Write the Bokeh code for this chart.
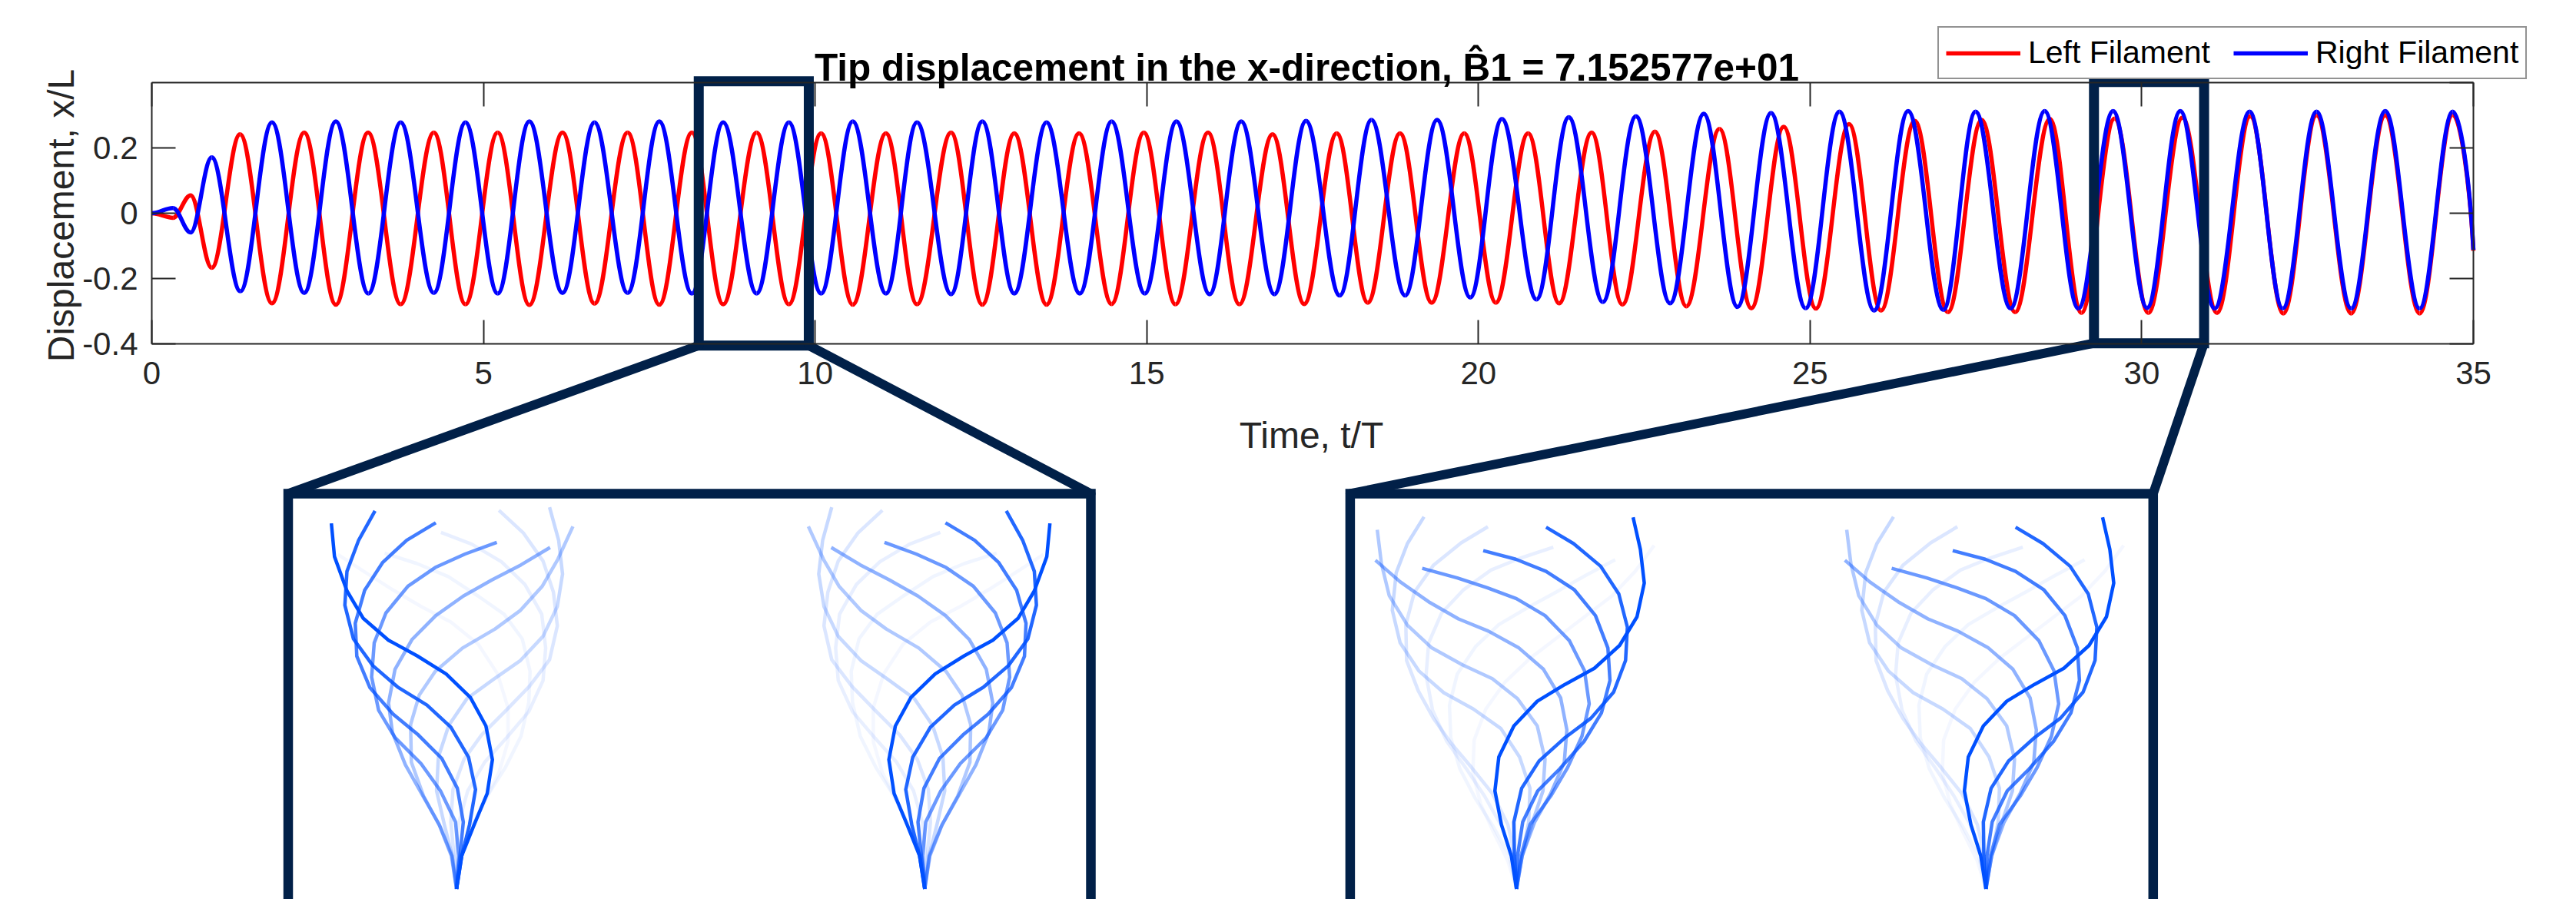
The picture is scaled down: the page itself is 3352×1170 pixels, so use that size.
import numpy as np
from bokeh.plotting import figure
from bokeh.models import (Range1d, LinearAxis, FixedTicker, CustomJSTickFormatter,
                          Label, Legend, LegendItem, ColumnDataSource)
from bokeh.embed import file_html
from bokeh.resources import INLINE

# ---------------------------------------------------------------- data
title_text = "Tip displacement in the x-direction, B\u03021 = 7.152577e+01"
x_label = "Time, t/T"
y_label = "Displacement, x/L"
series_names = ["Left Filament", "Right Filament"]

time_ticks = [0, 5, 10, 15, 20, 25, 30, 35]
disp_ticks = [-0.4, -0.2, 0.0, 0.2]

# successive extrema (plus start / end) of the tip displacement
blue_t = [0.0, 0.32, 0.586, 0.904, 1.335, 1.812, 2.298, 2.775, 3.266, 3.752, 4.252, 4.729,
          5.215, 5.692, 6.192, 6.674, 7.174, 7.651, 8.142, 8.614, 9.118, 9.605, 10.09,
          10.568, 11.068, 11.536, 12.049, 12.521, 13.003, 13.489, 13.989, 14.470, 14.970,
          15.447, 15.947, 16.424, 16.924, 17.401, 17.909, 18.387, 18.895, 19.377, 19.877,
          20.354, 20.876, 21.362, 21.875, 22.375, 22.889, 23.397, 23.906, 24.411, 24.933,
          25.442, 25.965, 26.478, 27.009, 27.495, 28.023, 28.537, 29.045, 29.568, 30.081,
          30.581, 31.099, 31.626, 32.126, 32.635, 33.157, 33.671, 34.189, 34.689, 35.0]
blue_v = [0.0, 0.016, -0.059, 0.171, -0.239, 0.278, -0.244, 0.281, -0.246, 0.278, -0.244, 0.278,
          -0.246, 0.281, -0.244, 0.278, -0.244, 0.281, -0.246, 0.278, -0.246, 0.278, -0.246,
          0.281, -0.246, 0.278, -0.248, 0.281, -0.246, 0.278, -0.246, 0.281, -0.246,
          0.281, -0.248, 0.281, -0.248, 0.283, -0.252, 0.286, -0.252, 0.286, -0.258,
          0.289, -0.264, 0.294, -0.272, 0.297, -0.276, 0.305, -0.287, 0.307, -0.291,
          0.311, -0.298, 0.313, -0.296, 0.311, -0.292, 0.313, -0.292, 0.313, -0.290,
          0.313, -0.292, 0.311, -0.292, 0.311, -0.292, 0.313, -0.292, 0.311, -0.112]

red_t = [0.0, 0.32, 0.586, 0.904, 1.331, 1.812, 2.298, 2.775, 3.261, 3.752, 4.252, 4.729,
         5.215, 5.692, 6.192, 6.674, 7.174, 7.651, 8.142, 8.614, 9.118, 9.605, 10.09,
         10.568, 11.068, 11.536, 12.049, 12.521, 13.003, 13.489, 13.979, 14.470, 14.956,
         15.433, 15.924, 16.396, 16.896, 17.373, 17.864, 18.332, 18.818, 19.295, 19.786,
         20.263, 20.749, 21.217, 21.707, 22.171, 22.661, 23.134, 23.634, 24.115, 24.602,
         25.088, 25.587, 26.069, 26.578, 27.078, 27.586, 28.091, 28.614, 29.091, 29.590,
         30.100, 30.613, 31.135, 31.636, 32.135, 32.635, 33.157, 33.671, 34.189, 34.689, 35.0]
red_v = [0.0, -0.014, 0.055, -0.167, 0.242, -0.276, 0.247, -0.280, 0.247, -0.279, 0.247, -0.279,
         0.247, -0.281, 0.247, -0.277, 0.247, -0.280, 0.247, -0.279, 0.247, -0.279, 0.245,
         -0.280, 0.245, -0.279, 0.247, -0.280, 0.245, -0.280, 0.245, -0.278, 0.247,
         -0.279, 0.247, -0.279, 0.242, -0.278, 0.245, -0.274, 0.245, -0.274, 0.245,
         -0.274, 0.245, -0.276, 0.247, -0.280, 0.250, -0.285, 0.258, -0.291, 0.265,
         -0.292, 0.273, -0.298, 0.283, -0.303, 0.286, -0.303, 0.289, -0.305, 0.290,
         -0.305, 0.293, -0.305, 0.297, -0.307, 0.300, -0.307, 0.300, -0.307, 0.302, -0.115]

# zoomed windows (t/T start, t/T end, displacement bottom, top)
zoom_windows = [(8.246, 9.905, -0.405, 0.404), (29.28, 30.94, -0.398, 0.402)]

# filament snapshots (newest -> oldest), sampled on a read grid where 1 L = 1690 units,
# base of the filament at (base_x, base_y) of that grid
fil_L_read = 1690.0
fil1_base = (632, 1528)
fil1_shapes = [
    [(150,120),(162,248),(210,380),(272,485),(370,570),(480,630),(592,700),(685,790),(745,900),(770,1030),(750,1160),(700,1280),(652,1400),(632,1528)],
    [(318,72),(255,185),(210,305),(202,435),(235,565),(310,668),(405,750),(518,820),(610,905),(678,1020),(705,1145),(682,1280),(652,1400),(632,1528)],
    [(552,118),(440,185),(348,270),(278,378),(242,505),(248,632),(298,752),(388,855),(485,935),(575,1025),(635,1140),(658,1270),(645,1400),(632,1528)],
    [(787,193),(665,238),(550,290),(445,362),(360,465),(315,580),(305,712),(332,840),(395,945),(495,1045),(570,1150),(628,1270),(640,1400),(632,1528)],
    [(992,213),(880,280),(768,338),(658,400),(552,475),(460,568),(395,682),(370,812),(385,925),(435,1050),(500,1165),(565,1280),(612,1400),(632,1528)],
    [(1080,132),(1022,258),(962,362),(878,455),(780,527),(655,600),(550,690),(488,782),(455,895),(458,1040),(505,1170),(570,1290),(615,1400),(632,1528)],
    [(990,58),(1025,185),(1040,315),(1020,440),(965,555),(878,648),(772,722),(672,795),(602,898),(562,1020),(555,1150),(585,1280),(615,1400),(632,1528)],
    [(795,70),(890,158),(965,265),(1005,385),(1020,515),(990,645),(912,748),(818,845),(728,935),(660,1030),(618,1145),(610,1270),(622,1400),(632,1528)],
    [(572,155),(690,200),(805,268),(895,355),(960,470),(975,600),(965,725),(910,845),(825,945),(740,1040),(675,1150),(640,1275),(628,1400),(632,1528)],
    [(355,235),(480,275),(600,325),(715,400),(815,470),(885,565),(915,690),(910,810),(880,940),(820,1060),(750,1170),(690,1290),(650,1400),(632,1528)],
    [(175,240),(275,305),(385,375),(495,440),(610,500),(715,585),(790,700),(830,830),(830,960),(795,1080),(740,1190),(685,1300),(648,1410),(632,1528)],
]
fil2_base = (748, 1528)
fil2_shapes = [
    [(1197,97),(1225,220),(1240,350),(1212,480),(1145,590),(1048,678),(935,740),(828,805),(738,900),(680,1020),(665,1150),(690,1280),(728,1400),(748,1528)],
    [(862,135),(968,198),(1072,285),(1142,392),(1175,520),(1168,648),(1122,770),(1035,870),(935,945),(835,1035),(768,1140),(738,1270),(740,1400),(748,1528)],
    [(620,225),(745,258),(862,305),(970,375),(1052,475),(1100,600),(1108,725),(1075,850),(1008,960),(915,1065),(830,1150),(772,1270),(752,1400),(748,1528)],
    [(385,293),(520,330),(635,368),(748,410),(858,475),(952,572),(1010,688),(1028,815),(1000,940),(945,1060),(880,1170),(800,1280),(765,1400),(748,1528)],
    [(205,262),(300,345),(410,422),(525,488),(640,535),(755,598),(852,682),(918,792),(942,915),(932,1040),(880,1160),(818,1270),(770,1400),(748,1528)],
    [(212,145),(228,275),(258,398),(328,512),(420,598),(540,665),(655,718),(752,795),(828,900),(858,1028),(850,1150),(810,1270),(770,1400),(748,1528)],
    [(392,95),(328,198),(285,310),(270,455),(300,580),(372,688),(468,772),(582,835),(688,910),(760,1020),(800,1140),(795,1270),(770,1400),(748,1528)],
    [(638,133),(535,195),(428,282),(355,385),(322,510),(325,648),(370,765),(428,870),(495,965),(575,1060),(655,1160),(715,1280),(742,1400),(748,1528)],
    [(890,212),(760,255),(650,300),(545,375),(460,465),(410,580),(400,705),(425,840),(480,960),(555,1065),(625,1170),(690,1285),(735,1400),(748,1528)],
    [(1128,260),(1015,320),(900,385),(790,445),(680,510),(590,595),(520,700),(490,820),(495,945),(530,1065),(590,1180),(660,1290),(720,1400),(748,1528)],
    [(1278,205),(1205,305),(1115,400),(1010,480),(905,560),(800,640),(705,730),(630,835),(585,955),(580,1080),(610,1200),(660,1310),(715,1420),(748,1528)],
]
fil_alpha = [1.0, 0.87, 0.74, 0.58, 0.44, 0.31, 0.22, 0.14, 0.09, 0.06, 0.045]

# ---------------------------------------------------------------- layout / style
W, H = 3352, 1170
AX_L, AX_R, AX_T = 197.0, 3218.0, 107.0     # axes box left, right, top (canvas px)
Y_TOP, PPU_Y = 0.4, 425.0
T_MAX = 35
PPU_X = (AX_R - AX_L) / T_MAX
NAVY = "#012048"
AXC = "#262626"
FONT = "Liberation Sans"
FIL_BLUE = "#0050ff"
L_PX = 571.2                           # filament length on canvas

panels = [
    dict(left=374.5, right=1419.0, top=642.0, shapes=fil1_shapes, base=fil1_base,
         anchors=[(593.6, 1156.5, 1), (1202.8, 1156.5, -1)]),
    dict(left=1756.4, right=2801.3, top=642.0, shapes=fil2_shapes, base=fil2_base,
         anchors=[(1972.8, 1156.5, 1), (2583.7, 1156.5, 1)]),
]


def tx(t):
    return AX_L + PPU_X * t


def vy(v):
    return AX_T + (Y_TOP - v) * PPU_Y


# the frame covers the whole canvas; the data ranges are set so that the axes box
# (0..35, -0.4..0.4) sits where it does in the reference
x_rng = Range1d(-AX_L / PPU_X, T_MAX + (W - AX_R) / PPU_X)
y_rng = Range1d(Y_TOP - (H - AX_T) / PPU_Y, Y_TOP + AX_T / PPU_Y)

p = figure(width=W, height=H, x_range=x_rng, y_range=y_rng,
           output_backend="svg", toolbar_location=None, x_axis_location=None,
           y_axis_location=None, min_border=0, outline_line_color=None,
           background_fill_color="white", border_fill_color="white")
p.xgrid.visible = False
p.ygrid.visible = False
p.extra_x_ranges = {"px": Range1d(0, W)}
p.extra_y_ranges = {"px": Range1d(H, 0)}

blank = CustomJSTickFormatter(code="return '';")
yfmt = CustomJSTickFormatter(code="return tick == 0 ? '0' : tick.toFixed(1);")


def make_axis(fixed, ticks, bounds, fmt=None):
    ax = LinearAxis(fixed_location=fixed, ticker=FixedTicker(ticks=ticks), bounds=bounds,
                    major_tick_in=31, major_tick_out=0, minor_tick_in=0, minor_tick_out=0,
                    axis_line_color=AXC, axis_line_width=2, major_tick_line_color=AXC,
                    major_tick_line_width=2, major_label_text_font=FONT,
                    major_label_text_font_size="42px", major_label_text_color=AXC)
    if fmt is not None:
        ax.formatter = fmt
    return ax


ax_b = make_axis(-0.4, time_ticks, (0, T_MAX))
ax_b.major_label_standoff = 23
ax_t = make_axis(0.4, time_ticks, (0, T_MAX), blank)
ax_l = make_axis(0, disp_ticks, (-0.4, 0.4), yfmt)
ax_l.major_label_standoff = 18
ax_r = make_axis(T_MAX, disp_ticks + [0.4], (-0.4, 0.4), blank)
p.add_layout(ax_b, "below")
p.add_layout(ax_t, "above")
p.add_layout(ax_l, "left")
p.add_layout(ax_r, "right")


def bezier_source(ts, vs, k=0.364):
    ts = np.asarray(ts, float)
    vs = np.asarray(vs, float)
    x0, x1, y0, y1 = ts[:-1], ts[1:], vs[:-1], vs[1:]
    dt = x1 - x0
    cx0, cy0 = x0 + k * dt, y0.copy()
    cx1, cy1 = x1 - k * dt, y1.copy()
    # the last sample is the cut at t/T = 35, not an extremum
    cx1[-1] = x1[-1] - 0.5 * k * dt[-1]
    cy1[-1] = y1[-1] + 0.5 * (y0[-1] - y1[-1])
    return ColumnDataSource(dict(x0=x0, y0=y0, x1=x1, y1=y1, cx0=cx0, cy0=cy0, cx1=cx1, cy1=cy1))


r_red = p.bezier(x0="x0", y0="y0", x1="x1", y1="y1", cx0="cx0", cy0="cy0", cx1="cx1",
                 cy1="cy1", source=bezier_source(red_t, red_v), line_color="#ff0000",
                 line_width=5.5)
r_blue = p.bezier(x0="x0", y0="y0", x1="x1", y1="y1", cx0="cx0", cy0="cy0", cx1="cx1",
                  cy1="cy1", source=bezier_source(blue_t, blue_v), line_color="#0000ff",
                  line_width=5.5)

# zoom boxes
p.quad(left=[w[0] for w in zoom_windows], right=[w[1] for w in zoom_windows],
       bottom=[w[2] for w in zoom_windows], top=[w[3] for w in zoom_windows],
       fill_color=None, line_color=NAVY, line_width=13, line_join="miter")

# connectors from zoom boxes to the panels
sx0, sy0, sx1, sy1 = [], [], [], []
for w, pan in zip(zoom_windows, panels):
    sx0 += [tx(w[0]), tx(w[1])]
    sy0 += [vy(w[2]), vy(w[2])]
    sx1 += [pan["left"], pan["right"]]
    sy1 += [pan["top"], pan["top"]]
p.segment(x0=sx0, y0=sy0, x1=sx1, y1=sy1, x_range_name="px", y_range_name="px",
          line_color=NAVY, line_width=12, line_cap="round")

# panels
p.quad(left=[pan["left"] for pan in panels], right=[pan["right"] for pan in panels],
       top=[pan["top"] for pan in panels], bottom=[H + 40 for pan in panels],
       x_range_name="px", y_range_name="px", fill_color=None, line_color=NAVY,
       line_width=12.5, line_join="miter")

xs, ys, alphas = [], [], []
for pan in panels:
    bx, by = pan["base"]
    for (ax, ay, sgn) in pan["anchors"]:
        for shape, a in reversed(list(zip(pan["shapes"], fil_alpha))):
            X = [(q[0] - bx) / fil_L_read for q in shape]
            Y = [(by - q[1]) / fil_L_read for q in shape]
            xs.append([ax + sgn * L_PX * v for v in X])
            ys.append([ay - L_PX * v for v in Y])
            alphas.append(a)
p.multi_line(xs="xs", ys="ys", line_alpha="a",
             source=ColumnDataSource(dict(xs=xs, ys=ys, a=alphas)),
             x_range_name="px", y_range_name="px", line_color=FIL_BLUE, line_width=4.5,
             line_join="round")

# texts
p.add_layout(Label(x=1700, y=87, x_range_name="px", y_range_name="px", text=title_text,
                   text_align="center", text_baseline="alphabetic", text_font=FONT,
                   text_font_style="bold", text_font_size="49.5px", text_color="black"))
p.add_layout(Label(x=1706, y=566, x_range_name="px", y_range_name="px", text=x_label,
                   text_align="center", text_baseline="alphabetic", text_font=FONT,
                   text_font_size="48px", text_color=AXC))
p.add_layout(Label(x=79, y=280, x_range_name="px", y_range_name="px", text=y_label,
                   angle=np.pi / 2, text_align="center", text_baseline="alphabetic",
                   text_font=FONT, text_font_size="48px", text_color=AXC))

legend = Legend(items=[LegendItem(label=series_names[0], renderers=[r_red]),
                       LegendItem(label=series_names[1], renderers=[r_blue])],
                orientation="horizontal", location=(2521, H - 103), margin=0,
                padding=9, spacing=30, glyph_width=97, glyph_height=30, label_standoff=10,
                label_text_font=FONT, label_text_font_size="41px", label_text_color="black",
                border_line_color=AXC, border_line_width=2, background_fill_color="white",
                background_fill_alpha=1.0)
p.add_layout(legend)

open("out.html", "w").write(file_html(p, INLINE))
